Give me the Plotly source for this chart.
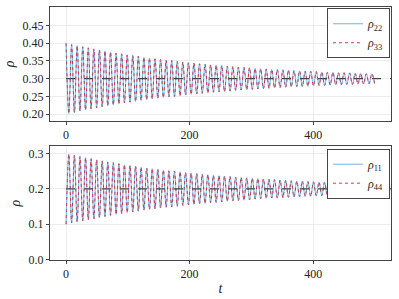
import plotly.graph_objects as go
from plotly.subplots import make_subplots

# sampling step between successive extrema (time units)
dt = 4.5

# populations read at successive extrema (peak / trough alternating)
rho22 = [0.400, 0.202, 0.396, 0.205, 0.393, 0.209, 0.390, 0.212, 0.387, 0.215,
         0.384, 0.218, 0.381, 0.221, 0.378, 0.224, 0.375, 0.226, 0.372, 0.229,
         0.370, 0.232, 0.367, 0.234, 0.365, 0.236, 0.363, 0.239, 0.360, 0.241,
         0.358, 0.243, 0.356, 0.245, 0.354, 0.247, 0.352, 0.249, 0.351, 0.250,
         0.349, 0.252, 0.347, 0.254, 0.345, 0.256, 0.344, 0.257, 0.342, 0.259,
         0.341, 0.260, 0.339, 0.262, 0.338, 0.263, 0.337, 0.264, 0.335, 0.265,
         0.334, 0.267, 0.333, 0.268, 0.332, 0.269, 0.331, 0.270, 0.329, 0.271,
         0.328, 0.272, 0.327, 0.273, 0.326, 0.274, 0.326, 0.275, 0.325, 0.276,
         0.324, 0.277, 0.323, 0.278, 0.322, 0.278, 0.321, 0.279, 0.321, 0.280,
         0.320, 0.281, 0.319, 0.281, 0.318, 0.282, 0.318, 0.283, 0.317, 0.283,
         0.317, 0.284, 0.316, 0.284, 0.315, 0.285, 0.315, 0.285, 0.314, 0.286,
         0.314, 0.286]
rho33 = list(rho22)

rho11 = [0.100, 0.298, 0.104, 0.295, 0.107, 0.291, 0.110, 0.288, 0.113, 0.285,
         0.116, 0.282, 0.119, 0.279, 0.122, 0.276, 0.125, 0.274, 0.128, 0.271,
         0.130, 0.268, 0.133, 0.266, 0.135, 0.264, 0.137, 0.261, 0.140, 0.259,
         0.142, 0.257, 0.144, 0.255, 0.146, 0.253, 0.148, 0.251, 0.149, 0.250,
         0.151, 0.248, 0.153, 0.246, 0.155, 0.244, 0.156, 0.243, 0.158, 0.241,
         0.159, 0.240, 0.161, 0.238, 0.162, 0.237, 0.163, 0.236, 0.165, 0.235,
         0.166, 0.233, 0.167, 0.232, 0.168, 0.231, 0.169, 0.230, 0.171, 0.229,
         0.172, 0.228, 0.173, 0.227, 0.174, 0.226, 0.174, 0.225, 0.175, 0.224,
         0.176, 0.223, 0.177, 0.222, 0.178, 0.222, 0.179, 0.221, 0.179, 0.220,
         0.180, 0.219, 0.181, 0.219, 0.182, 0.218, 0.182, 0.217, 0.183, 0.217,
         0.183, 0.216, 0.184, 0.216, 0.185, 0.215, 0.185, 0.215, 0.186, 0.214,
         0.186, 0.214]
rho44 = list(rho11)

t = [dt * k for k in range(len(rho22))]

top_mean = 0.3
bottom_mean = 0.2
x_range = [-26, 526]
top_yticks = [0.20, 0.25, 0.30, 0.35, 0.40, 0.45]
bottom_yticks = [0.0, 0.1, 0.2, 0.3]
x_ticks = [0, 200, 400]

BLUE = "#6cb4ee"
RED = "#d03848"
GREY = "#444444"
FONT = "Liberation Serif, DejaVu Serif, serif"

fig = make_subplots(rows=2, cols=1, vertical_spacing=0.099)

# top panel
fig.add_trace(go.Scatter(x=t, y=rho22, mode="lines", name="<i>ρ</i><sub>22</sub>",
                         line=dict(color=BLUE, width=1, shape="spline"),
                         legend="legend"), row=1, col=1)
fig.add_trace(go.Scatter(x=t, y=rho33, mode="lines", name="<i>ρ</i><sub>33</sub>",
                         line=dict(color=RED, width=1, dash="dot", shape="spline"),
                         legend="legend"), row=1, col=1)
fig.add_trace(go.Scatter(x=[0, x_range[1]], y=[top_mean, top_mean], mode="lines",
                         line=dict(color=GREY, dash="dash", width=1.2),
                         showlegend=False, hoverinfo="skip"), row=1, col=1)

# bottom panel
fig.add_trace(go.Scatter(x=t, y=rho11, mode="lines", name="<i>ρ</i><sub>11</sub>",
                         line=dict(color=BLUE, width=1, shape="spline"),
                         legend="legend2"), row=2, col=1)
fig.add_trace(go.Scatter(x=t, y=rho44, mode="lines", name="<i>ρ</i><sub>44</sub>",
                         line=dict(color=RED, width=1, dash="dot", shape="spline"),
                         legend="legend2"), row=2, col=1)
fig.add_trace(go.Scatter(x=[0, x_range[1]], y=[bottom_mean, bottom_mean], mode="lines",
                         line=dict(color=GREY, dash="dash", width=1.2),
                         showlegend=False, hoverinfo="skip"), row=2, col=1)

axis_common = dict(showline=True, mirror=True, linecolor="#444444", linewidth=1,
                   showgrid=True, gridcolor="#ececec", gridwidth=1, zeroline=False,
                   ticks="outside", ticklen=3, tickcolor="#444444",
                   tickfont=dict(family=FONT, size=12, color="#222222"))

fig.update_xaxes(range=x_range, tickvals=x_ticks, automargin=False, **axis_common)
fig.update_xaxes(title=dict(text="<i>t</i>", font=dict(family=FONT, size=14), standoff=2),
                 row=2, col=1)
fig.update_yaxes(range=[0.181, 0.502], tickvals=top_yticks, tickformat=".2f",
                 automargin=False,
                 title=dict(text="<i>ρ</i>", font=dict(family=FONT, size=14), standoff=4),
                 row=1, col=1, **axis_common)
fig.update_yaxes(range=[-0.001, 0.321], tickvals=bottom_yticks, tickformat=".1f",
                 automargin=False,
                 title=dict(text="<i>ρ</i>", font=dict(family=FONT, size=14), standoff=4),
                 row=2, col=1, **axis_common)

legend_common = dict(xanchor="right", yanchor="top", bgcolor="white",
                     bordercolor="#444444", borderwidth=1,
                     font=dict(family=FONT, size=12, color="#222222"),
                     itemwidth=30, tracegroupgap=0)
fig.update_layout(
    width=399, height=299,
    margin=dict(l=50, r=8, t=7, b=39),
    paper_bgcolor="white", plot_bgcolor="white",
    font=dict(family=FONT, size=12, color="#222222"),
    legend=dict(x=0.997, y=0.995, **legend_common),
    legend2=dict(x=0.997, y=0.44, **legend_common),
)

fig.write_html("out.html", config={"displayModeBar": False},
               post_script="document.body.style.margin='0';")
